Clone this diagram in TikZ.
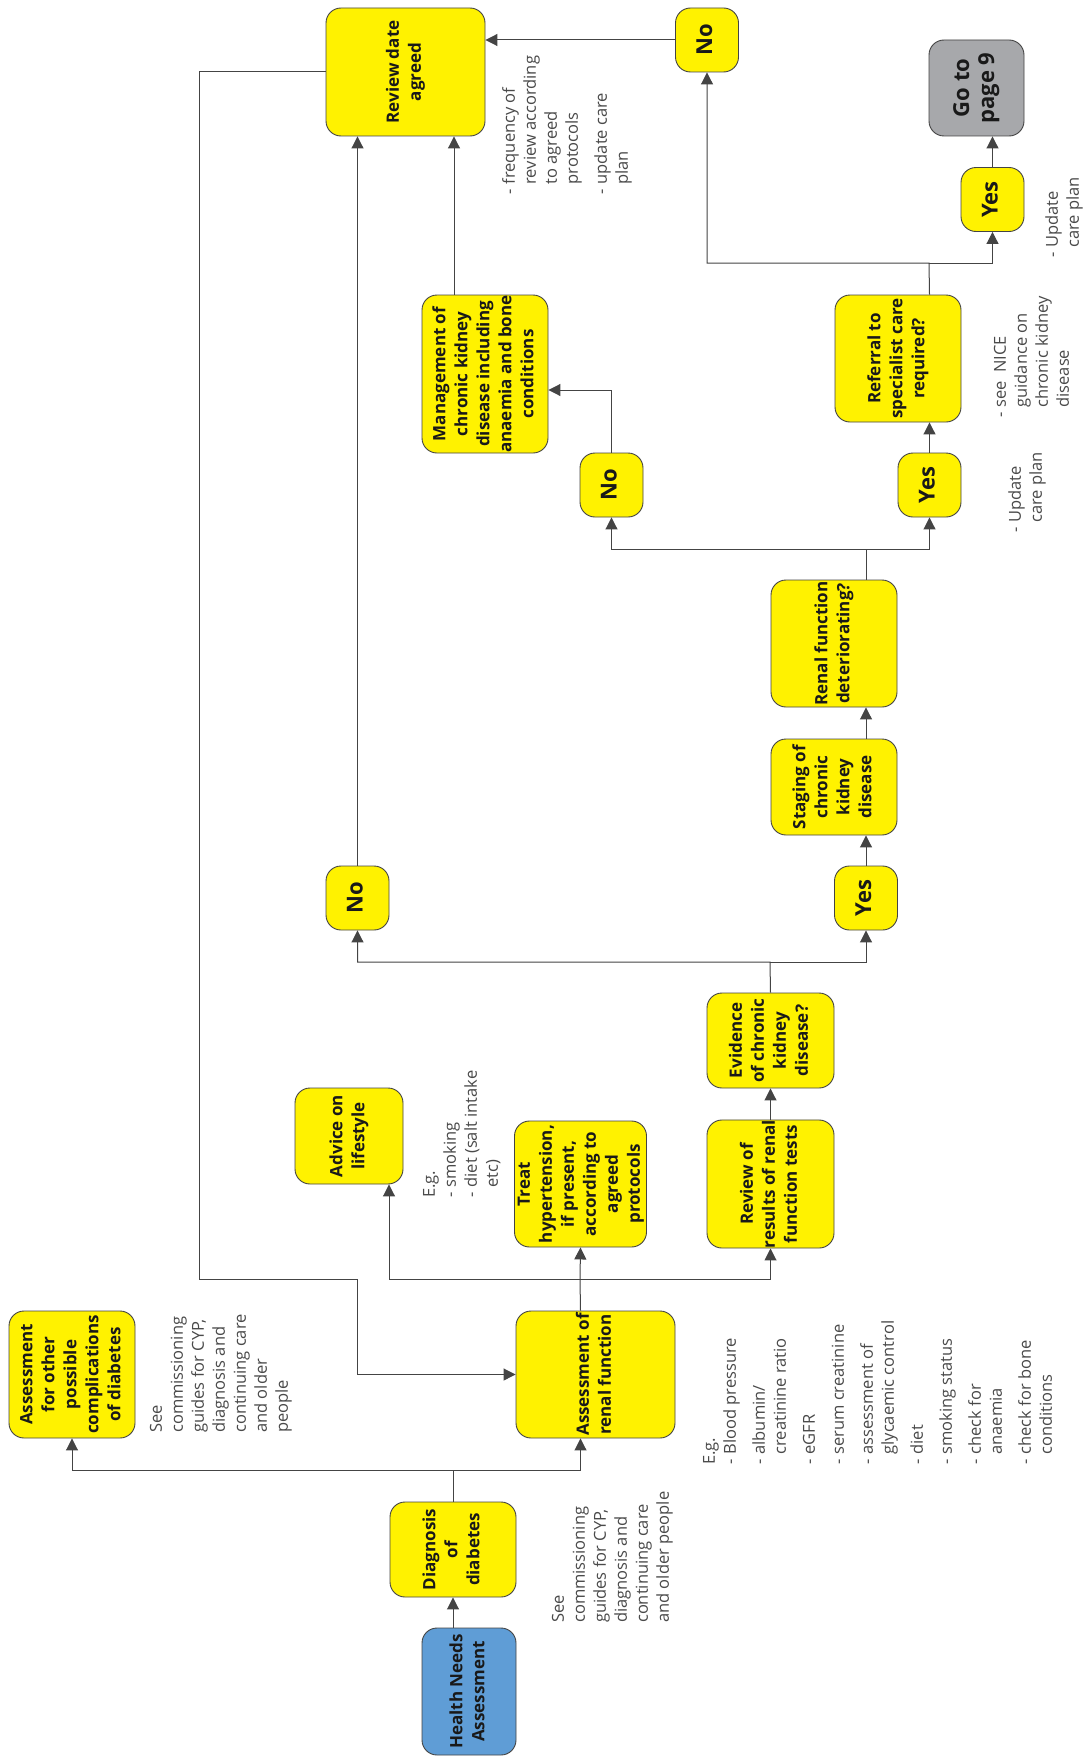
\documentclass[tikz,border=0pt]{standalone}
\usepackage{fontspec}
\setmainfont{Open Sans}
\usepackage{graphicx}
\usepackage{xcolor}
\usepackage{tikz}
\usetikzlibrary{arrows.meta, positioning}

\definecolor{boxyellow}{HTML}{FFF200}
\definecolor{boxblue}{HTML}{5F9DD6}
\definecolor{boxgrey}{HTML}{A7A8AB}
\definecolor{linegrey}{HTML}{444444}
\definecolor{notegrey}{HTML}{4A4A4A}

% rotated text for the boxes and the notes
\newcommand{\rtxt}[1]{\rotatebox{90}{\begin{tabular}{@{}c@{}}#1\end{tabular}}}
\newcommand{\rnote}[1]{\rotatebox{90}{\begin{tabular}{@{}l@{}}#1\end{tabular}}}
\newcommand{\rlist}[1]{\rotatebox{90}{\begin{tabular}{@{}l@{\hspace{5pt}}l@{}}#1\end{tabular}}}

\tikzset{
    box/.style={draw=linegrey, fill=boxyellow, rounded corners=15pt, line width=0.9pt,
        inner sep=0pt, text=black!90, font=\fontsize{17}{22}\selectfont\bfseries},
    answer/.style={box, minimum width=63pt, minimum height=64pt,
        font=\fontsize{22}{25}\selectfont\bfseries},
    note/.style={anchor=south west, inner sep=0pt, text=notegrey,
        font=\fontsize{16.5}{21}\selectfont},
    arr/.style={draw=linegrey, line width=1pt, -{Triangle[length=12pt,width=12pt]}},
    link/.style={draw=linegrey, line width=1pt}
}

\begin{document}
\begin{tikzpicture}[x=1pt, y=-1pt]
        \useasboundingbox[fill=white] (0,0) rectangle (1085,1758);

        % Add the boxes
        \node[box, fill=boxblue, minimum width=94pt, minimum height=127pt] (hna) at (469,1691.5) {\rtxt{Health Needs\\Assessment}};
        \node[box, minimum width=126pt, minimum height=95pt]  (diag)     at (453,1549.5) {\rtxt{Diagnosis\\of\\diabetes}};
        \node[box, minimum width=126pt, minimum height=127pt] (other)    at (72,1374.5)  {\rtxt{Assessment\\for other\\possible\\complications\\of diabetes}};
        \node[box, minimum width=159pt, minimum height=127pt] (renal)    at (595.5,1374.5) {\rtxt{Assessment of\\renal function}};
        \node[box, minimum width=108pt, minimum height=96pt]  (advice)   at (349,1136)   {\rtxt{Advice on\\lifestyle}};
        \node[box, minimum width=127pt, minimum height=126pt] (treat)    at (580.5,1184) {\rtxt{Treat\\hypertension,\\if present,\\according to\\agreed\\protocols}};
        \node[box, minimum width=127pt, minimum height=126pt] (results)  at (770.5,1184) {\rtxt{Review of\\results of renal\\function tests}};
        \node[box, minimum width=127pt, minimum height=95pt]  (evidence) at (770.5,1040.5) {\rtxt{Evidence\\of chronic\\kidney\\disease?}};
        \node[answer] (nockd)  at (357.5,898) {\rtxt{No}};
        \node[answer] (yesckd) at (866,898)   {\rtxt{Yes}};
        \node[box, minimum width=126pt, minimum height=96pt]  (staging)  at (834,787)    {\rtxt{Staging of\\chronic\\kidney\\disease}};
        \node[box, minimum width=126pt, minimum height=127pt] (worse)    at (834,643.5)  {\rtxt{Renal function\\deteriorating?}};
        \node[answer] (noworse)  at (611.5,485) {\rtxt{No}};
        \node[answer] (yesworse) at (929.5,485) {\rtxt{Yes}};
        \node[box, minimum width=126pt, minimum height=158pt] (manage)   at (485,374)    {\rtxt{Management of\\chronic kidney\\disease including\\anaemia and bone\\conditions}};
        \node[box, minimum width=126pt, minimum height=127pt] (referral) at (898,358.5)  {\rtxt{Referral to\\specialist care\\required?}};
        \node[box, minimum width=159pt, minimum height=128pt] (reviewdate) at (405.5,72) {\rtxt{Review date\\agreed}};
        \node[answer] (noref)  at (707,40)      {\rtxt{No}};
        \node[answer] (yesref) at (992.5,199.5) {\rtxt{Yes}};
        \node[answer, fill=boxgrey, minimum width=95pt, minimum height=96pt] (page) at (976.5,88) {\rtxt{Go to\\page 9}};

        % Add the notes
        \node[note] (seediag)  at (549,1623) {\rnote{See\\commissioning\\guides for CYP,\\diagnosis and\\continuing care\\and older people}};
        \node[note] (seeother) at (147,1433) {\rnote{See\\commissioning\\guides for CYP,\\diagnosis and\\continuing care\\and older\\people}};
        \node[note] (checks)   at (700,1465) {\rlist{\multicolumn{2}{@{}l@{}}{E.g.}\\
            -&Blood pressure\\[8pt] -&albumin/\\ &creatinine ratio\\[8pt] -&eGFR\\[8pt]
            -&serum creatinine\\[8pt] -&assessment of\\ &glycaemic control\\[8pt] -&diet\\[8pt]
            -&smoking status\\[8pt] -&check for\\ &anaemia\\[8pt] -&check for bone\\ &conditions}};
        \node[note] (lifestyle) at (420,1198) {\rlist{\multicolumn{2}{@{}l@{}}{E.g.}\\ -&smoking\\ -&diet (salt intake\\ &etc)}};
        \node[note] (nice)     at (991,418)  {\rlist{-&see\ \ NICE\\ &guidance on\\ &chronic kidney\\ &disease}};
        \node[note] (update)   at (1006,533) {\rlist{-&Update\\ &care plan}};
        \node[note] (frequency) at (500,195) {\rlist{-&frequency of\\ &review according\\ &to agreed\\ &protocols\\[8pt] -&update care\\ &plan}};
        \node[note] (updateref) at (1043,258) {\rlist{-&Update\\ &care plan}};

        % Branch points
        \coordinate (splitdiag)  at (453,1470);
        \coordinate (splitrenal) at (580,1279);
        \coordinate (splitckd)   at (770,962);
        \coordinate (splitworse) at (866,549);
        \coordinate (splitref)   at (929,263);
        \coordinate (backleft)   at (199,1279);
        \coordinate (backright)  at (357,1279);

        % Connect the boxes with arrows
        \draw[arr] (hna.north -| diag.south) -- (diag.south);
        \draw[arr] (diag.north) -- (splitdiag) -| (other.south);
        \draw[arr] (splitdiag) -| (treat.south |- renal.south);
        \draw[link] (treat.south |- renal.north) -- (splitrenal);
        \draw[arr] (splitrenal) -| ([xshift=40pt]advice.south);
        \draw[arr] (splitrenal) -- (treat.south);
        \draw[arr] (splitrenal) -| (results.south);
        \draw[arr] (results.north) -- (evidence.south);
        \draw[arr] (evidence.north) -- (splitckd) -| (nockd.south);
        \draw[arr] (splitckd) -| (yesckd.south);
        \draw[arr] (yesckd.north) -- (yesckd.north |- staging.south);
        \draw[arr] (yesckd.north |- staging.north) -- (yesckd.north |- worse.south);
        \draw[arr] (yesckd.north |- worse.north) -- (splitworse) -| (noworse.south);
        \draw[arr] (splitworse) -| (yesworse.south);
        \draw[arr] (yesworse.north) -- (yesworse.north |- referral.south);
        \draw[arr] (noworse.north) |- ([yshift=-16pt]manage.east);
        \draw[arr] (yesworse.north |- referral.north) -- (splitref) -| (noref.south);
        \draw[arr] (splitref) -| (yesref.south);
        \draw[arr] (yesref.north) -- (yesref.north |- page.south);
        \draw[arr] (noref.west) -- (noref.west -| reviewdate.east);
        \draw[arr] (nockd.north) -- (nockd.north |- reviewdate.south);
        \draw[arr] ([xshift=-31pt]manage.north) -- ([xshift=-31pt]manage.north |- reviewdate.south);
        \draw[arr] (reviewdate.west) -| (backleft) -- (backright) |- (renal.west);
    \end{tikzpicture}
\end{document}
